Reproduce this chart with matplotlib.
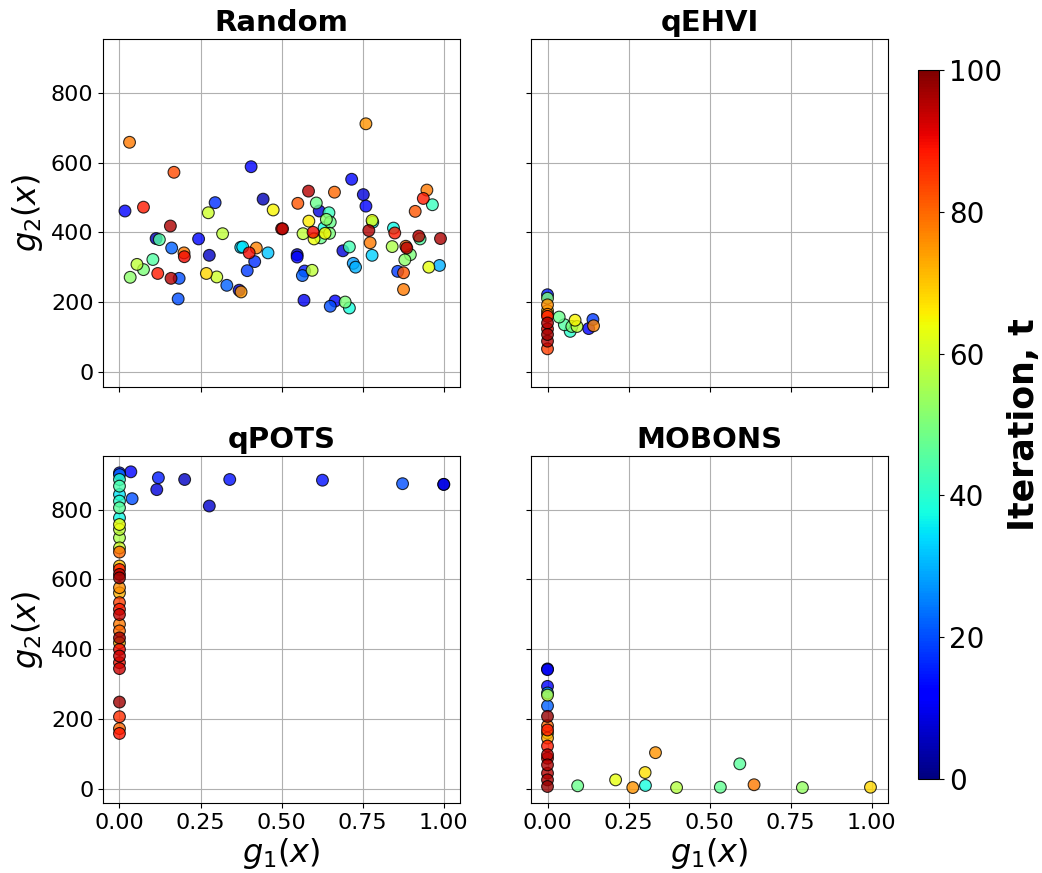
import numpy as np
import matplotlib
matplotlib.use("Agg")
import matplotlib.pyplot as plt

# Random
rand_g1 = [0.031, 0.017, 0.074, 0.168, 0.157, 0.113, 0.123, 0.161, 0.199, 0.200,
           0.103, 0.054, 0.074, 0.033, 0.118, 0.159, 0.184, 0.181, 0.244, 0.295,
           0.274, 0.318, 0.277, 0.268, 0.300, 0.331, 0.369, 0.375, 0.406, 0.374,
           0.380, 0.400, 0.422, 0.417, 0.394, 0.458, 0.443, 0.474, 0.500, 0.503,
           0.550, 0.583, 0.607, 0.616, 0.646, 0.584, 0.638, 0.650, 0.631, 0.566,
           0.597, 0.600, 0.621, 0.634, 0.648, 0.663, 0.548, 0.548, 0.571, 0.594,
           0.564, 0.569, 0.665, 0.650, 0.696, 0.709, 0.689, 0.709, 0.721, 0.728,
           0.716, 0.760, 0.752, 0.760, 0.781, 0.779, 0.769, 0.773, 0.779, 0.845,
           0.849, 0.841, 0.883, 0.886, 0.897, 0.880, 0.858, 0.876, 0.876, 0.912,
           0.937, 0.948, 0.965, 0.923, 0.927, 0.990, 0.954, 0.987]
rand_g2 = [658, 461, 472, 572, 418, 382, 379, 355, 341, 330,
           322, 308, 293, 271, 282, 268, 268, 209, 381, 485,
           456, 396, 334, 282, 272, 248, 234, 229, 588, 357,
           358, 341, 355, 316, 290, 341, 495, 464, 410, 410,
           483, 518, 484, 461, 456, 432, 437, 429, 413, 396,
           400, 381, 384, 397, 397, 515, 336, 329, 289, 291,
           276, 205, 203, 188, 200, 183, 347, 358, 311, 300,
           552, 711, 508, 475, 429, 434, 405, 370, 334, 412,
           398, 359, 360, 355, 336, 321, 288, 284, 236, 460,
           497, 521, 479, 389, 381, 382, 300, 305]
rand_t = [78, 12, 88, 83, 96, 5, 45, 22, 78, 90,
          45, 58, 50, 52, 88, 95, 20, 20, 13, 17,
          60, 58, 6, 68, 60, 22, 7, 75, 12, 33,
          35, 90, 77, 17, 18, 32, 5, 65, 88, 96,
          82, 95, 48, 8, 42, 66, 52, 48, 38, 58,
          90, 64, 48, 65, 50, 80, 6, 12, 15, 58,
          22, 10, 12, 20, 50, 38, 8, 43, 28, 30,
          13, 75, 8, 12, 36, 63, 96, 78, 33, 37,
          88, 56, 80, 95, 50, 52, 18, 82, 78, 82,
          88, 78, 42, 95, 45, 96, 63, 30]

# qEHVI
qehvi_g1 = [0, 0, 0, 0, 0, 0, 0, 0, 0, 0, 0,
            0.036, 0.052, 0.070, 0.075, 0.085, 0.091, 0.127, 0.140, 0.142]
qehvi_g2 = [221, 211, 192, 175, 165, 159, 140, 123, 107, 88, 66,
            157, 135, 116, 130, 148, 130, 124, 150, 132]
qehvi_t = [15, 50, 76, 68, 78, 88, 96, 90, 97, 95, 84,
           48, 45, 40, 50, 65, 58, 12, 18, 77]

# qPOTS
qpots_g1 = [0] * 34 + [0.035, 0.039, 0.120, 0.115, 0.201, 0.277, 0.340, 0.626, 0.873, 1.0, 1.0]
qpots_g2 = [905, 900, 886, 867, 843, 824, 805, 776, 757, 743,
            719, 690, 678, 638, 628, 614, 604, 576, 561, 533,
            514, 499, 471, 452, 432, 418, 399, 380, 361, 344,
            248, 206, 172, 158,
            908, 831, 891, 857, 886, 810, 886, 884, 874, 872, 872]
qpots_t = [15, 22, 40, 44, 35, 40, 46, 37, 64, 58,
           56, 60, 80, 70, 88, 95, 97, 76, 72, 84,
           88, 94, 78, 80, 97, 72, 90, 93, 89, 93,
           97, 86, 80, 89,
           12, 20, 15, 8, 6, 7, 14, 14, 20, 10, 3]

# MOBONS
mobons_g1 = [0] * 18 + [0.093, 0.210, 0.263, 0.301, 0.302, 0.333, 0.398, 0.533,
                        0.593, 0.637, 0.786, 0.996]
mobons_g2 = [343, 341, 293, 274, 268, 237, 207, 180, 168, 159,
             145, 122, 97, 87, 68, 44, 25, 6,
             8, 25, 3, 46, 9, 103, 3, 4, 71, 11, 3, 4]
mobons_t = [5, 12, 12, 30, 57, 22, 98, 80, 88, 65,
            73, 88, 95, 90, 96, 95, 96, 98,
            48, 63, 75, 67, 38, 75, 57, 47, 46, 78, 53, 68]

panels = [
    ("Random", rand_g1, rand_g2, rand_t),
    ("qEHVI", qehvi_g1, qehvi_g2, qehvi_t),
    ("qPOTS", qpots_g1, qpots_g2, qpots_t),
    ("MOBONS", mobons_g1, mobons_g2, mobons_t),
]

fig, axes = plt.subplots(2, 2, figsize=(10.42, 8.73), dpi=100, sharex=True, sharey=True)
fig.subplots_adjust(left=0.0991, right=0.8522, top=0.955, bottom=0.0798,
                    wspace=0.2, hspace=0.2)

sc = None
for ax, (name, g1, g2, t) in zip(axes.flat, panels):
    g1 = np.asarray(g1, float)
    g2 = np.asarray(g2, float)
    t = np.asarray(t, float)
    order = np.argsort(t, kind="stable")
    sc = ax.scatter(g1[order], g2[order], c=t[order], cmap="jet", vmin=0, vmax=100,
                    s=72, edgecolors="black", linewidths=0.8, alpha=0.8, zorder=3)
    ax.set_title(name, fontsize=21, fontweight="bold")
    ax.grid(True, zorder=0)
    ax.set_axisbelow(True)
    ax.tick_params(labelsize=16)

for ax in axes[1, :]:
    ax.set_xlabel(r"$g_1(x)$", fontsize=23, labelpad=2)
for ax in axes[:, 0]:
    ax.set_ylabel(r"$g_2(x)$", fontsize=23)
axes[0, 0].set_yticks([0, 200, 400, 600, 800])
axes[0, 0].set_xticks([0, 0.25, 0.5, 0.75, 1.0])

cax = fig.add_axes([0.8807, 0.1077, 0.0204, 0.8121])
cb = fig.colorbar(sc, cax=cax)
cb.solids.set_alpha(1)
cb.set_ticks([0, 20, 40, 60, 80, 100])
cb.ax.tick_params(labelsize=20)
cb.set_label("Iteration, t", fontsize=25, fontweight="bold", labelpad=4)

fig.savefig("out.png", dpi=100)
